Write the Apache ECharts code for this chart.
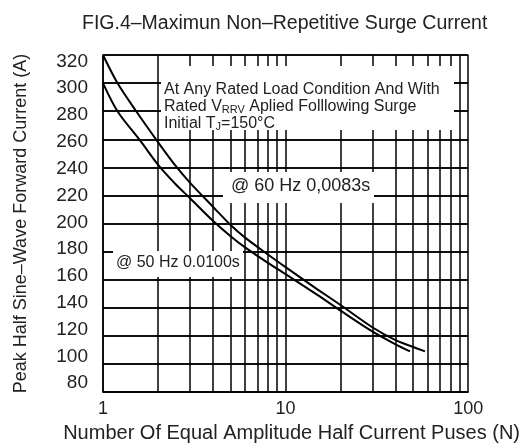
<!DOCTYPE html>
<html>
<head>
<meta charset="utf-8">
<script src="https://cdn.jsdelivr.net/npm/echarts@6/dist/echarts.min.js"></script>
<style>html,body{margin:0;padding:0;background:#fff}#c{width:523px;height:448px}</style>
</head>
<body>
<div id="c"></div>
<script>
// ---- data ----
const titleText = 'FIG.4\u2013Maximun Non\u2013Repetitive Surge Current';
const xName = 'Number Of Equal Amplitude Half Current Puses (N)';
const yName = 'Peak Half Sine\u2013Wave Forward Current (A)';
const yTicks = [80, 100, 120, 140, 160, 180, 200, 220, 240, 260, 280, 300, 320];
const xMajor = [1, 10, 100];
const xMinor = [2, 3, 4, 5, 6, 7, 8, 9, 20, 30, 40, 50, 60, 70, 80, 90];
const n60 = [1, 1.2, 1.5, 2, 2.5, 3, 4, 5, 6, 8, 10, 15, 20, 30, 40, 48, 58];
const v60 = [320, 300, 281, 258, 241, 229, 212, 199, 190, 178, 169, 153, 142, 126, 117, 113, 109];
const n50 = [1, 1.2, 1.6, 2, 2.5, 3, 4, 5, 6, 8, 10, 15, 20, 30, 40, 48];
const v50 = [300, 280, 259, 242, 228, 218, 202, 191, 183, 172, 164, 149, 138, 123, 114, 109];
const noteLines = ['At Any Rated Load Condition And With', 'Rated V{s|RRV} Aplied Folllowing Surge', 'Initial T{s|J}=150\u00b0C'];
const label60 = '@ 60 Hz 0,0083s';
const label50 = '@ 50 Hz 0.0100s';

const FONT = 'Liberation Sans';
const TXT = '#222';
const chart = echarts.init(document.getElementById('c'), null, {renderer: 'canvas'});
const lineStyle = {color: '#000', width: 2};
const gridLineStyle = {color: '#000', width: 1.5, type: 'solid'};
const option = {
  animation: false,
  backgroundColor: '#fff',
  title: {text: titleText, left: 77, top: 9,
    textStyle: {fontFamily: FONT, fontSize: 19.5, fontWeight: 'normal', color: TXT}},
  grid: {left: 103, right: 51, top: 55, bottom: 54, containLabel: false},
  xAxis: {
    type: 'log', logBase: 10, min: 1, max: 100,
    name: xName, nameLocation: 'middle', nameGap: 29,
    nameTextStyle: {fontFamily: FONT, fontSize: 20, color: TXT, padding: [0, 0, 0, 12]},
    axisLine: {lineStyle: {color: '#000', width: 1.5}},
    axisTick: {show: false},
    axisLabel: {fontFamily: FONT, fontSize: 18, color: TXT, margin: 8},
    splitLine: {show: true, lineStyle: {color: '#000', width: 1.5}},
    minorTick: {show: false}, minorSplitLine: {show: false}
  },
  yAxis: [
    {
      type: 'value', min: 80, max: 320, interval: 20,
      name: yName, nameLocation: 'middle', nameGap: 73, nameRotate: 90,
      nameTextStyle: {fontFamily: FONT, fontSize: 18, color: TXT},
      axisLine: {show: true, lineStyle: {color: '#000', width: 1.5}},
      axisTick: {show: false},
      axisLabel: {show: true, color: 'rgba(0,0,0,0)', fontSize: 19, margin: 15},
      splitLine: {show: true, lineStyle: {color: '#000', width: 1.5}}
    },
    {
      type: 'value', position: 'left', min: 73.3, max: 324.8,
      axisLine: {show: false}, axisTick: {show: false}, splitLine: {show: false},
      axisLabel: {show: true, customValues: yTicks, fontFamily: FONT, fontSize: 19, color: TXT, margin: 15}
    }
  ],
  series: [
    {
      type: 'line', name: '60Hz', yAxisIndex: 0, data: n60.map((n, i) => [n, v60[i]]),
      smooth: 0.3, showSymbol: false, lineStyle, z: 3,
      markLine: {silent: true, symbol: 'none', label: {show: false}, z: 1,
        lineStyle: gridLineStyle,
        data: xMinor.map(v => ({xAxis: v})).concat(yTicks.map(v => ({yAxis: v})))}
    },
    {
      type: 'line', name: '50Hz', yAxisIndex: 0, data: n50.map((n, i) => [n, v50[i]]),
      smooth: 0.3, showSymbol: false, lineStyle, z: 3
    }
  ],
  graphic: [
    {type: 'rect', z: 50, shape: {x: 161, y: 66, width: 293, height: 64}, style: {fill: '#fff'}},
    {type: 'text', z: 51, left: 164, top: 81,
      style: {text: noteLines.join('\n'), fontFamily: FONT, fontSize: 16, lineHeight: 17, fill: TXT,
        rich: {s: {fontFamily: FONT, fontSize: 11, fill: TXT, verticalAlign: 'bottom'}}}},
    {type: 'rect', z: 50, shape: {x: 223, y: 172, width: 151, height: 31}, style: {fill: '#fff'}},
    {type: 'text', z: 51, left: 231, top: 177,
      style: {text: label60, fontFamily: FONT, fontSize: 18, fill: TXT}},
    {type: 'rect', z: 50, shape: {x: 113, y: 251, width: 130, height: 26}, style: {fill: '#fff'}},
    {type: 'text', z: 51, left: 116, top: 255,
      style: {text: label50, fontFamily: FONT, fontSize: 16, fill: TXT}}
  ]
};
chart.setOption(option);
</script>
</body>
</html>
